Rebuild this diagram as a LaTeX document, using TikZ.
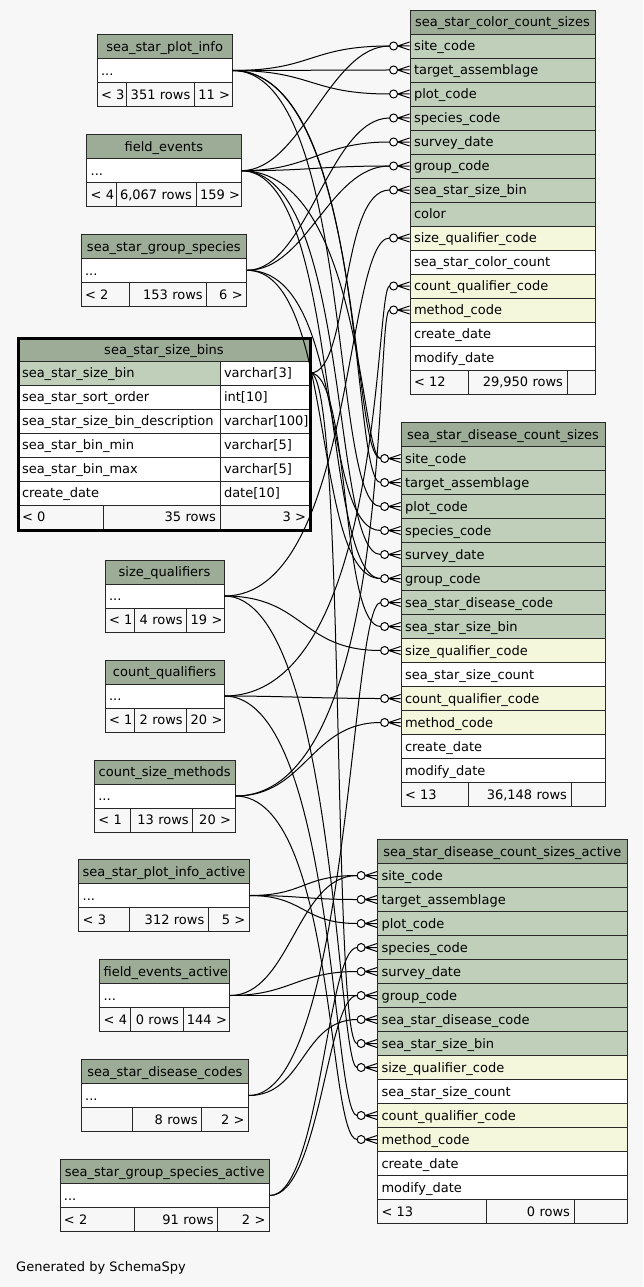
\documentclass[tikz,border=0pt]{standalone}
\usepackage{fontspec}
\setmainfont{DejaVu Sans}
\definecolor{bg}{RGB}{247,247,247}
\definecolor{ttl}{RGB}{156,172,151}
\definecolor{key}{RGB}{191,207,186}
\definecolor{yel}{RGB}{244,247,220}
\definecolor{edgec}{RGB}{40,40,40}
\tikzset{
  cellbox/.style={draw=edgec, line width=0.8pt, inner xsep=4pt, inner ysep=0pt,
    text height=11pt, text depth=1.6pt, font=\fontsize{13}{15}\selectfont},
  fkline/.style={draw=black, line width=1pt},
}
\newcommand\cell[8]{%
  \pgfmathsetmacro\cw{(#4)-(#2)}%
  \pgfmathsetmacro\chh{(#5)-(#3)}%
  \pgfmathsetmacro\ctw{(#4)-(#2)-8}%
  \pgfmathsetmacro\ccx{((#2)+(#4))/2}%
  \pgfmathsetmacro\ccy{((#3)+(#5))/2}%
  \node[cellbox, fill=#6, align=#7, minimum width=\cw pt, minimum height=\chh pt, text width=\ctw pt] (#1) at (\ccx,\ccy) {#8};}
\newcommand\stbl[5]{%
  \cell{#1-t}{#2}{#4}{#3}{(#4)+24}{ttl}{center}{#5}%
  \cell{#1-d}{#2}{(#4)+24}{#3}{(#4)+48}{white}{left}{...}}
\newcommand\sfoot[9]{%
  \cell{#1-f1}{#2}{#6}{#3}{(#6)+24}{bg}{left}{#7}%
  \cell{#1-f2}{#3}{#6}{#4}{(#6)+24}{bg}{right}{#8}%
  \cell{#1-f3}{#4}{#6}{#5}{(#6)+24}{bg}{right}{#9}}
\newcommand\brow[3]{\cell{#1}{\tx}{\ty}{\txx}{\ty+24}{#2}{left}{#3}\pgfmathsetmacro\ty{\ty+24}}
\newcommand\fkend[1]{%
  \coordinate (#1-in) at ([xshift=-20pt]#1.west);
  \coordinate (#1-v) at ([xshift=-12pt]#1.west);
  \draw[fkline] (#1-v) -- ([yshift=4pt]#1.west) (#1-v) -- (#1.west) (#1-v) -- ([yshift=-4pt]#1.west);
  \draw[fkline, fill=white] ([xshift=-16pt]#1.west) circle[radius=4pt];}
\newcommand\fk[4]{\draw[fkline] (#1) to[out=0,in=180,out distance=#3pt,in distance=#4pt] (#2);}
\begin{document}
\begin{tikzpicture}[x=1pt,y=-1pt]
\useasboundingbox (0,0) rectangle (643,1287);
\fill[bg] (0,0) rectangle (643,1287);

% ---------- small tables ----------
\stbl{pi}{97}{232.3}{34.5}{sea\_star\_plot\_info}
\sfoot{pi}{97}{126.3}{194.3}{232.3}{82.5}{<~3}{351~rows}{11~>}
\stbl{fe}{86.7}{241}{134.7}{field\_events}
\sfoot{fe}{86.7}{116}{196}{241}{182.7}{<~4}{6,067~rows}{159~>}
\stbl{gs}{81}{246.7}{234.3}{sea\_star\_group\_species}
\sfoot{gs}{81}{129}{206.7}{246.7}{282.3}{<~2}{153~rows}{6~>}
\stbl{sq}{105}{224}{560}{size\_qualifiers}
\sfoot{sq}{105}{134.3}{186.7}{224}{608}{<~1}{4~rows}{19~>}
\stbl{cq}{105}{224}{660}{count\_qualifiers}
\sfoot{cq}{105}{134.3}{186.7}{224}{708}{<~1}{2~rows}{20~>}
\stbl{cm}{94.3}{235}{760}{count\_size\_methods}
\sfoot{cm}{94.3}{130.7}{192.7}{235}{808}{<~1}{13~rows}{20~>}
\stbl{pia}{78.7}{249.3}{859.5}{sea\_star\_plot\_info\_active}
\sfoot{pia}{78.7}{129.2}{208.3}{249.3}{907.5}{<~3}{312~rows}{5~>}
\stbl{fea}{99.6}{229.6}{959.5}{field\_events\_active}
\sfoot{fea}{99.6}{130.4}{182.9}{229.6}{1007.5}{<~4}{0~rows}{144~>}
\stbl{dc}{81.2}{248.5}{1059.5}{sea\_star\_disease\_codes}
\sfoot{dc}{81.2}{132}{201.7}{248.5}{1107.5}{}{8~rows}{2~>}
\stbl{gsa}{59.9}{269.4}{1159.5}{sea\_star\_group\_species\_active}
\sfoot{gsa}{59.9}{134.5}{217.7}{269.4}{1207.5}{<~2}{91~rows}{2~>}

% ---------- sea_star_size_bins ----------
\cell{sb-t}{18}{338}{310}{361}{ttl}{center}{sea\_star\_size\_bins}
\cell{sb-1a}{18}{361}{220}{385}{key}{left}{sea\_star\_size\_bin}
\cell{sb-1b}{220}{361}{310}{385}{white}{left}{varchar[3]}
\cell{sb-2a}{18}{385}{220}{409}{white}{left}{sea\_star\_sort\_order}
\cell{sb-2b}{220}{385}{310}{409}{white}{left}{int[10]}
\cell{sb-3a}{18}{409}{220}{433}{white}{left}{sea\_star\_size\_bin\_description}
\cell{sb-3b}{220}{409}{310}{433}{white}{left}{varchar[100]}
\cell{sb-4a}{18}{433}{220}{457}{white}{left}{sea\_star\_bin\_min}
\cell{sb-4b}{220}{433}{310}{457}{white}{left}{varchar[5]}
\cell{sb-5a}{18}{457}{220}{481}{white}{left}{sea\_star\_bin\_max}
\cell{sb-5b}{220}{457}{310}{481}{white}{left}{varchar[5]}
\cell{sb-6a}{18}{481}{220}{505}{white}{left}{create\_date}
\cell{sb-6b}{220}{481}{310}{505}{white}{left}{date[10]}
\sfoot{sb}{18}{103.3}{220}{310}{505}{<~0}{35~rows}{3~>}
\draw[line width=3pt, draw=black] (18,338) rectangle (310,530);

% ---------- sea_star_color_count_sizes ----------
\cell{c-t}{410}{10}{595}{34}{ttl}{center}{sea\_star\_color\_count\_sizes}
\def\tx{410}\def\txx{595}\def\ty{34}
\brow{c-site}{key}{site\_code}
\brow{c-target}{key}{target\_assemblage}
\brow{c-plot}{key}{plot\_code}
\brow{c-species}{key}{species\_code}
\brow{c-survey}{key}{survey\_date}
\brow{c-group}{key}{group\_code}
\brow{c-bin}{key}{sea\_star\_size\_bin}
\brow{c-color}{key}{color}
\brow{c-sq}{yel}{size\_qualifier\_code}
\brow{c-count}{white}{sea\_star\_color\_count}
\brow{c-cq}{yel}{count\_qualifier\_code}
\brow{c-method}{yel}{method\_code}
\brow{c-create}{white}{create\_date}
\brow{c-modify}{white}{modify\_date}
\sfoot{c}{410}{468.5}{567}{595}{370}{<~12}{29,950~rows}{}

% ---------- sea_star_disease_count_sizes ----------
\cell{d-t}{401}{422.5}{605}{446.5}{ttl}{center}{sea\_star\_disease\_count\_sizes}
\def\tx{401}\def\txx{605}\def\ty{446.5}
\brow{d-site}{key}{site\_code}
\brow{d-target}{key}{target\_assemblage}
\brow{d-plot}{key}{plot\_code}
\brow{d-species}{key}{species\_code}
\brow{d-survey}{key}{survey\_date}
\brow{d-group}{key}{group\_code}
\brow{d-dis}{key}{sea\_star\_disease\_code}
\brow{d-bin}{key}{sea\_star\_size\_bin}
\brow{d-sq}{yel}{size\_qualifier\_code}
\brow{d-count}{white}{sea\_star\_size\_count}
\brow{d-cq}{yel}{count\_qualifier\_code}
\brow{d-method}{yel}{method\_code}
\brow{d-create}{white}{create\_date}
\brow{d-modify}{white}{modify\_date}
\sfoot{d}{401}{468.5}{571}{605}{782.5}{<~13}{36,148~rows}{}

% ---------- sea_star_disease_count_sizes_active ----------
\cell{a-t}{377.5}{839.5}{627}{863.5}{ttl}{center}{sea\_star\_disease\_count\_sizes\_active}
\def\tx{377.5}\def\txx{627}\def\ty{863.5}
\brow{a-site}{key}{site\_code}
\brow{a-target}{key}{target\_assemblage}
\brow{a-plot}{key}{plot\_code}
\brow{a-species}{key}{species\_code}
\brow{a-survey}{key}{survey\_date}
\brow{a-group}{key}{group\_code}
\brow{a-dis}{key}{sea\_star\_disease\_code}
\brow{a-bin}{key}{sea\_star\_size\_bin}
\brow{a-sq}{yel}{size\_qualifier\_code}
\brow{a-count}{white}{sea\_star\_size\_count}
\brow{a-cq}{yel}{count\_qualifier\_code}
\brow{a-method}{yel}{method\_code}
\brow{a-create}{white}{create\_date}
\brow{a-modify}{white}{modify\_date}
\sfoot{a}{377.5}{486}{574}{627}{1199.5}{<~13}{0~rows}{}

% ---------- FK ends ----------
\foreach \r in {c-site,c-target,c-plot,c-species,c-survey,c-group,c-bin,c-sq,c-cq,c-method,
  d-site,d-target,d-plot,d-species,d-survey,d-group,d-dis,d-bin,d-sq,d-cq,d-method,
  a-site,a-target,a-plot,a-species,a-survey,a-group,a-dis,a-bin,a-sq,a-cq,a-method}{\fkend{\r}}

% ---------- connectors ----------
% to sea_star_color_count_sizes
\fk{pi-d.east}{c-site-in}{80}{80}
\fk{pi-d.east}{c-target-in}{50}{50}
\fk{pi-d.east}{c-plot-in}{80}{80}
\fk{fe-d.east}{c-site-in}{60}{60}
\fk{fe-d.east}{c-survey-in}{70}{70}
\fk{fe-d.east}{c-group-in}{70}{70}
\fk{gs-d.east}{c-species-in}{60}{60}
\fk{gs-d.east}{c-group-in}{60}{60}
\fk{sb-1b.east}{c-bin-in}{40}{50}
\fk{sq-d.east}{c-sq-in}{130}{45}
\fk{cq-d.east}{c-cq-in}{160}{15}
\fk{cm-d.east}{c-method-in}{160}{15}
% to sea_star_disease_count_sizes
\fk{pi-d.east}{d-site-in}{130}{30}
\fk{pi-d.east}{d-target-in}{135}{30}
\fk{pi-d.east}{d-plot-in}{120}{50}
\fk{fe-d.east}{d-site-in}{120}{20}
\fk{fe-d.east}{d-survey-in}{110}{50}
\fk{fe-d.east}{d-group-in}{100}{60}
\fk{gs-d.east}{d-species-in}{100}{60}
\fk{gs-d.east}{d-group-in}{90}{70}
\fk{sb-1b.east}{d-bin-in}{40}{40}
\fk{sq-d.east}{d-sq-in}{80}{80}
\fk{cq-d.east}{d-cq-in}{60}{60}
\fk{cm-d.east}{d-method-in}{70}{70}
\fk{dc-d.east}{d-dis-in}{100}{30}
% to sea_star_disease_count_sizes_active
\fk{sb-1b.east}{a-bin-in}{35}{25}
\fk{sq-d.east}{a-sq-in}{110}{20}
\fk{cq-d.east}{a-cq-in}{110}{25}
\fk{cm-d.east}{a-method-in}{100}{30}
\fk{pia-d.east}{a-site-in}{55}{55}
\fk{pia-d.east}{a-target-in}{50}{50}
\fk{pia-d.east}{a-plot-in}{55}{55}
\fk{fea-d.east}{a-site-in}{60}{60}
\fk{fea-d.east}{a-survey-in}{60}{60}
\fk{fea-d.east}{a-group-in}{50}{50}
\fk{dc-d.east}{a-dis-in}{55}{55}
\fk{gsa-d.east}{a-species-in}{50}{30}
\fk{gsa-d.east}{a-group-in}{50}{30}

\node[anchor=base west, inner sep=0pt, font=\fontsize{13}{15}\selectfont] (gen) at (16,1271.5) {Generated by SchemaSpy};
\end{tikzpicture}
\end{document}
